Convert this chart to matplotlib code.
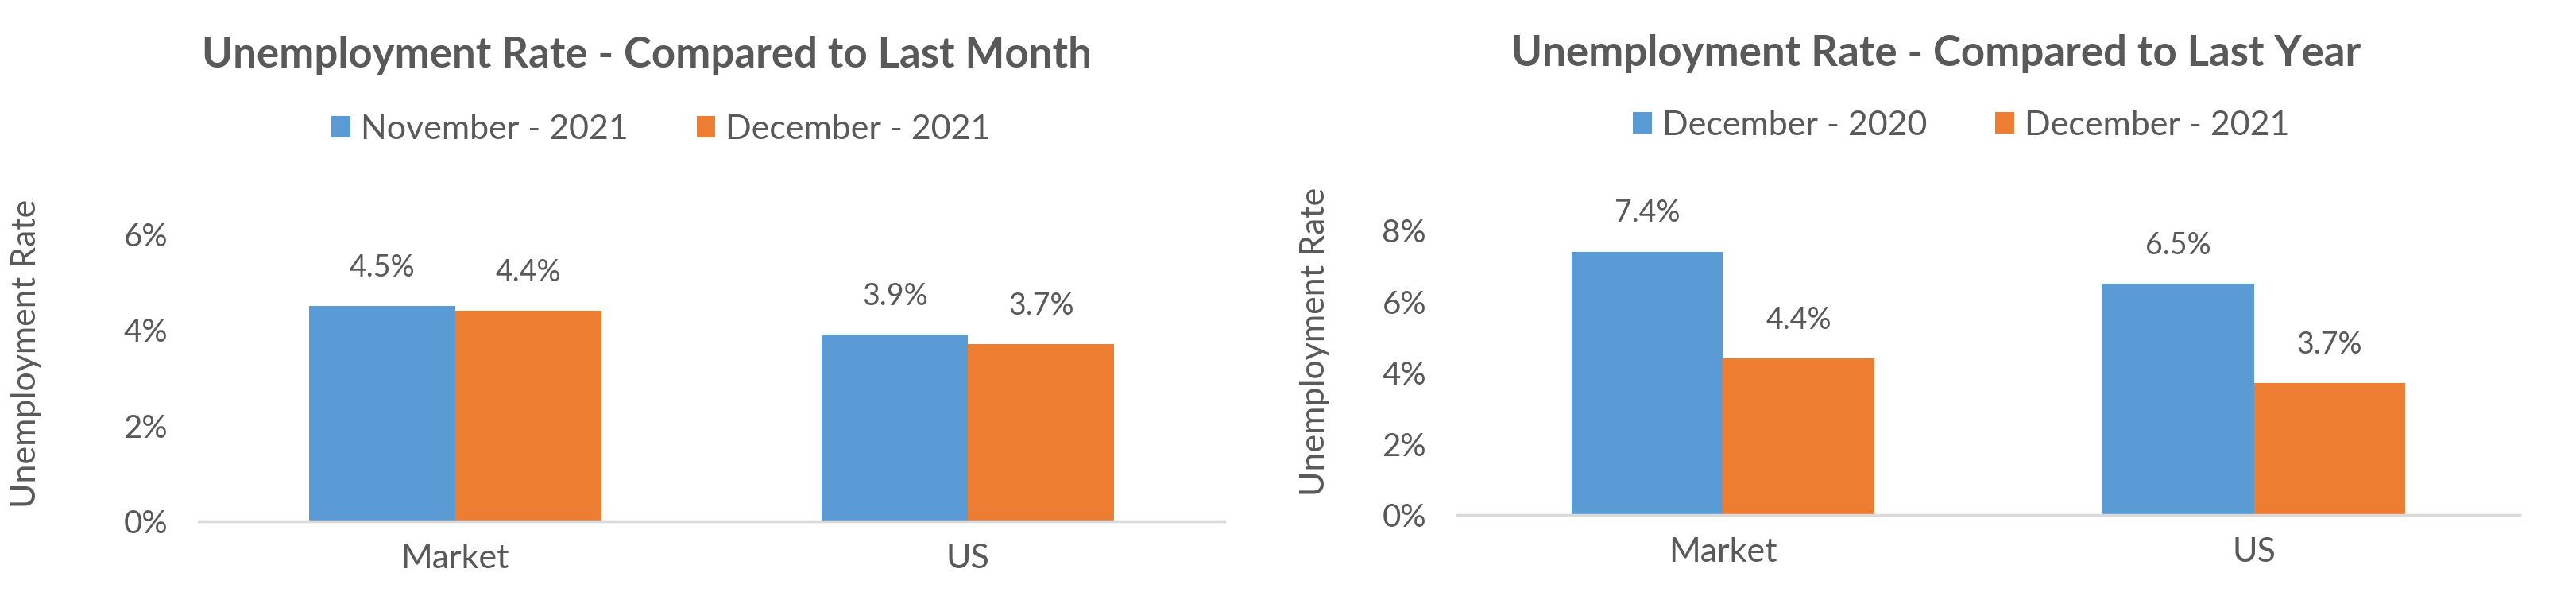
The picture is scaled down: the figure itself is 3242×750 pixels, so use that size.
import numpy as np
import matplotlib.pyplot as plt
from matplotlib.ticker import FuncFormatter

# data
categories = ["Market", "US"]

month_labels = ["November - 2021", "December - 2021"]
month_prev = [4.5, 3.9]
month_curr = [4.4, 3.7]

year_labels = ["December - 2020", "December - 2021"]
year_prev = [7.4, 6.5]
year_curr = [4.4, 3.7]

blue = "#5B9BD5"
orange = "#ED7D31"
txt = "#595959"

plt.rcParams['font.family'] = ['Lato', 'DejaVu Sans']

fig = plt.figure(figsize=(32.42, 7.5), dpi=100)


def panel(rect, title, title_xy, leg_xy, labels, prev, curr, ymax, ylab_xy):
    ax = fig.add_axes(rect)
    x = np.arange(len(categories))
    w = 0.285
    b1 = ax.bar(x - w / 2, prev, w, color=blue, label=labels[0])
    b2 = ax.bar(x + w / 2, curr, w, color=orange, label=labels[1])
    for bars in (b1, b2):
        for b in bars:
            ax.annotate("{:.1f}%".format(b.get_height()),
                        (b.get_x() + b.get_width() / 2, b.get_height()),
                        xytext=(0, 22), textcoords="offset points",
                        ha="center", va="bottom", fontsize=27, color=txt)
    ax.set_xlim(-0.5, len(categories) - 0.5)
    ax.set_ylim(0, ymax)
    ax.set_yticks(np.arange(0, ymax + 0.1, 2))
    ax.yaxis.set_major_formatter(FuncFormatter(lambda v, p: "{:.0f}%".format(v)))
    ax.set_xticks(x)
    ax.set_xticklabels(categories)
    ax.tick_params(axis="y", length=0, labelsize=29, labelcolor=txt, pad=28)
    ax.tick_params(axis="x", length=0, labelsize=31, labelcolor=txt, pad=20)
    for s in ("top", "right", "left"):
        ax.spines[s].set_visible(False)
    ax.spines["bottom"].set_color("#D9D9D9")
    ax.spines["bottom"].set_linewidth(2.5)
    ax.set_ylabel("Unemployment Rate", fontsize=31, color=txt)
    ax.yaxis.set_label_coords(*ylab_xy)
    fig.text(title_xy[0], title_xy[1], title, ha="center", va="center",
             fontsize=38, fontweight="bold", color=txt)
    ax.legend(loc="center", bbox_to_anchor=leg_xy, bbox_transform=fig.transFigure,
              ncol=2, frameon=False, fontsize=31, labelcolor=txt,
              handlelength=0.55, handleheight=0.6, handletextpad=0.3,
              columnspacing=2.0)
    return ax


panel([250 / 3242, 94 / 750, 1291 / 3242, 361 / 750],
      "Unemployment Rate - Compared to Last Month", (814 / 3242, 1 - 70 / 750),
      (832 / 3242, 1 - 163 / 750), month_labels, month_prev, month_curr, 6,
      (-0.153, 0.584))

panel([1834 / 3242, 102 / 750, 1337 / 3242, 358 / 750],
      "Unemployment Rate - Compared to Last Year", (2437 / 3242, 1 - 67 / 750),
      (2468 / 3242, 1 - 158 / 750), year_labels, year_prev, year_curr, 8,
      (-0.12, 0.61))

fig.savefig("out.png", dpi=100)
